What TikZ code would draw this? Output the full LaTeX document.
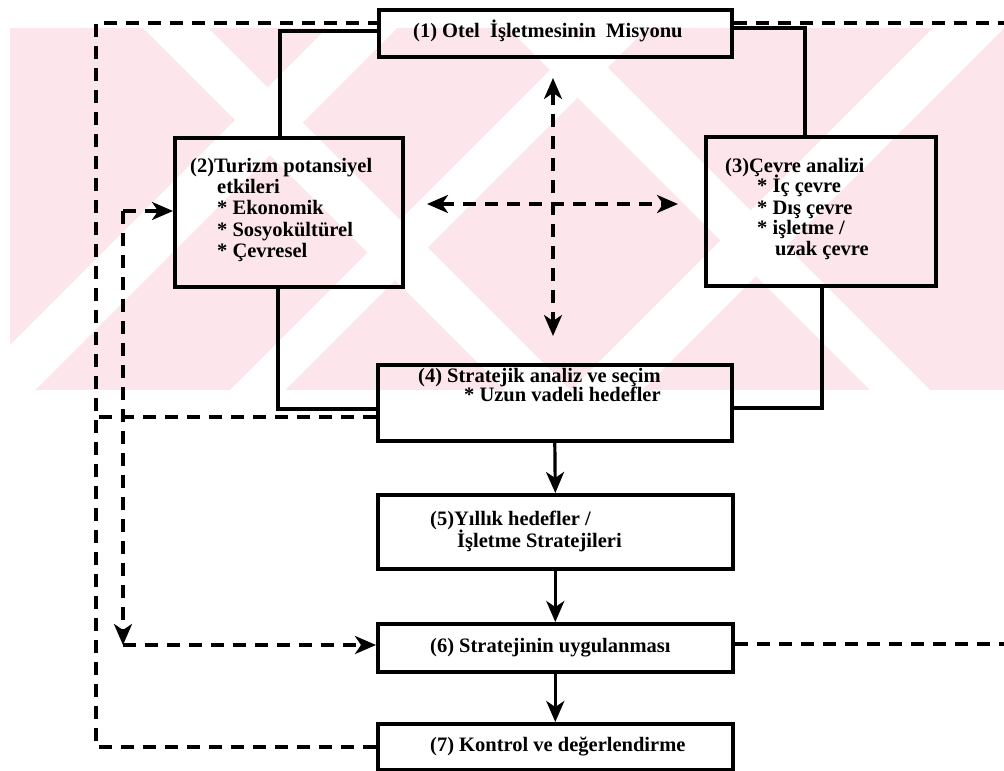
\documentclass[tikz,border=0pt]{standalone}
\usepackage{fontspec}
\setmainfont{Liberation Serif}
\usetikzlibrary{arrows.meta}
\definecolor{wmpink}{RGB}{252,230,235}
\tikzset{
  box/.style={draw=black, line width=3.6pt, rectangle, inner sep=0pt, anchor=north west},
  txt/.style={anchor=base west, inner sep=0pt, font=\fontsize{20.5}{21}\selectfont\bfseries},
  link/.style={draw=black, line width=3.2pt},
  dlink/.style={draw=black, line width=3.2pt, dash pattern=on 13pt off 9pt},
  tip/.style={-{Stealth[length=21pt,width=18pt,inset=6pt]}},
  tips/.style={{Stealth[length=21pt,width=18pt,inset=6pt]}-{Stealth[length=21pt,width=18pt,inset=6pt]}},
  wband/.style={fill=white},
}
\begin{document}
\begin{tikzpicture}[x=1pt,y=-1pt]
\useasboundingbox (0,0) rectangle (1004,771);
\fill[white] (0,0) rectangle (1004,771);
% background mark: pink field crossed by white diagonal stripes
\begin{scope}
\clip (10,28) rectangle (1004,390);
\fill[wmpink] (10,28) rectangle (1004,390);
% stripes rising to the right (x+y constant)
\fill[wband] (355,0) -- (425,0) -- (25,400) -- (-45,400) -- cycle;
\fill[wband] (620,0) -- (675,0) -- (275,400) -- (220,400) -- cycle;
\fill[wband] (961,0) -- (1032,0) -- (632,400) -- (561,400) -- cycle;
% stripes falling to the right (x-y constant)
\fill[wband] (115,0) -- (180,0) -- (580,400) -- (515,400) -- cycle;
\fill[wband] (480,0) -- (540,0) -- (940,400) -- (880,400) -- cycle;
\end{scope}
% boxes
\node[box, minimum width=353pt, minimum height=47pt] (b1) at (377,8) {};
\node[box, minimum width=228pt, minimum height=149pt] (b2) at (173,136) {};
\node[box, minimum width=230pt, minimum height=149pt] (b3) at (704,135) {};
\node[box, minimum width=354pt, minimum height=76pt] (b4) at (376,363) {};
\node[box, minimum width=355pt, minimum height=74pt] (b5) at (376,493) {};
\node[box, minimum width=355pt, minimum height=48pt] (b6) at (376,622) {};
\node[box, minimum width=355pt, minimum height=46pt] (b7) at (376,722) {};
% texts
\node[txt] (t1) at (413,37) {(1) Otel \ İşletmesinin \ Misyonu};
\node[txt] (t2a) at (190,172) {(2)Turizm potansiyel};
\node[txt] (t2b) at (217,193) {etkileri};
\node[txt] (t2c) at (217,214) {* Ekonomik};
\node[txt] (t2d) at (217,236) {* Sosyokültürel};
\node[txt] (t2e) at (217,257) {* Çevresel};
\node[txt] (t3a) at (725,172) {(3)Çevre analizi};
\node[txt] (t3b) at (757,192) {* İç çevre};
\node[txt] (t3c) at (757,214) {* Dış çevre};
\node[txt] (t3d) at (757,234) {* işletme /};
\node[txt] (t3e) at (775,255) {uzak çevre};
\node[txt] (t4a) at (418,382) {(4) Stratejik analiz ve seçim};
\node[txt] (t4b) at (464,401) {* Uzun vadeli hedefler};
\node[txt] (t5a) at (430,525) {(5)Yıllık hedefler /};
\node[txt] (t5b) at (457,547) {İşletme Stratejileri};
\node[txt] (t6) at (430,652) {(6) Stratejinin uygulanması};
\node[txt] (t7) at (430,751) {(7) Kontrol ve değerlendirme};
% solid frame connecting 1-2-4-3
\draw[link] (b1.west |- 0,31) -| (b2.north -| 280,0);
\draw[link] (b1.east |- 0,28) -| (b3.north -| 805,0);
\draw[link] (b2.south -| 278,0) |- (b4.west |- 0,409);
\draw[link] (b3.south -| 822,0) |- (b4.east |- 0,408);
% main flow
\draw[link, tip] (b4.south) -- (b5.north);
\draw[link, tip] (b5.south) -- (b6.north);
\draw[link, tip] (b6.south) -- (b7.north);
% central cross
\coordinate (cu) at (553,78);
\coordinate (cd) at (553,336);
\coordinate (cl) at (427,204);
\coordinate (cr) at (678,204);
\draw[dlink, tips] (cu) -- (cd);
\draw[dlink, tips] (cl) -- (cr);
% outer feedback loop
\coordinate (lo1) at (96,23);
\coordinate (lo2) at (96,747);
\draw[dlink] (b7.west |- 0,747) -- (lo2) -- (lo1) -- (b1.west |- 0,23);
\draw[dlink] (b4.west |- 0,417) -- (96,417);
% inner loop
\coordinate (li1) at (123,211);
\coordinate (li2) at (123,645);
\draw[dlink, tip] (li1) -- (b2.west |- li1);
\draw[dlink, tip] (li1) -- (li2);
\draw[dlink, tip] (li2) -- (b6.west |- li2);
% right side
\coordinate (ro1) at (1004,23);
\coordinate (ro2) at (1004,644);
\draw[dlink] (b1.east |- ro1) -- (ro1);
\draw[dlink] (b6.east |- ro2) -- (ro2);
\end{tikzpicture}
\end{document}
